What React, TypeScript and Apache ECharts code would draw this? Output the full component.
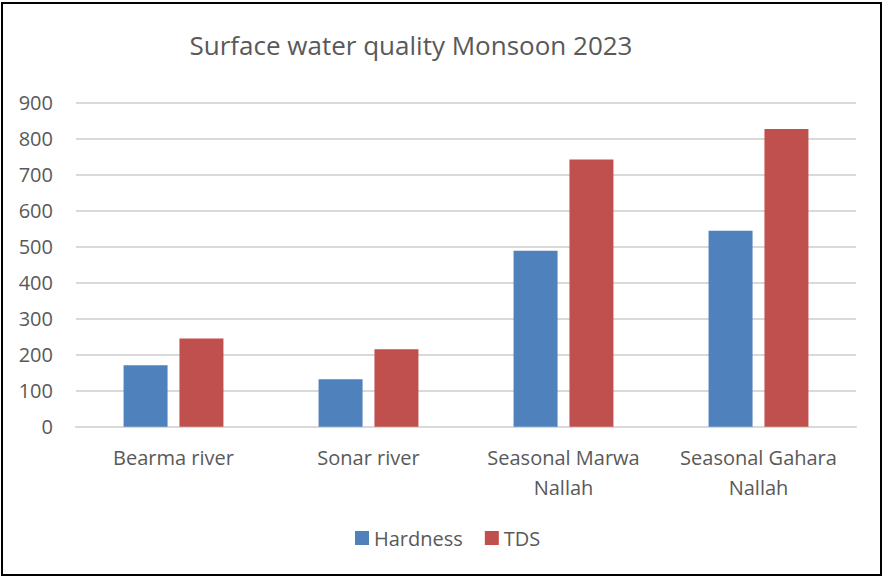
import React, { useEffect, useRef } from "react";
import * as echarts from "echarts";

const categories = ["Bearma river", "Sonar river", "Seasonal Marwa\nNallah", "Seasonal Gahara\nNallah"];
const hardness = [171, 132, 489, 544];
const tds = [245, 215, 742, 827];
const yTicks = { min: 0, max: 900, interval: 100 };
const titleText = "Surface water quality Monsoon 2023";

const FONT = "'Open Sans', sans-serif";
const TXT = "#595959";

export default function App() {
  const ref = useRef<HTMLDivElement>(null);
  useEffect(() => {
    if (!ref.current) return;
    const chart = echarts.init(ref.current, undefined, { renderer: "svg" });
    chart.setOption({
      animation: false,
      backgroundColor: "#ffffff",
      textStyle: { fontFamily: FONT },
      title: {
        text: titleText,
        left: 406,
        textAlign: "center",
        top: 27,
        textStyle: { fontFamily: FONT, fontSize: 26, fontWeight: "normal", color: TXT },
      },
      legend: {
        data: ["Hardness", "TDS"],
        bottom: 24,
        left: 350,
        itemWidth: 14,
        itemHeight: 14,
        itemGap: 22,
        icon: "rect",
        textStyle: { fontFamily: FONT, fontSize: 20, color: TXT },
      },
      grid: { left: 76, right: 28, top: 102.7, bottom: 150.3, containLabel: false },
      xAxis: {
        type: "category",
        data: categories,
        axisLine: { show: true, lineStyle: { color: "#d9d9d9", width: 2 } },
        axisTick: { show: false },
        axisLabel: { fontFamily: FONT, fontSize: 20, color: TXT, margin: 16, lineHeight: 30, interval: 0 },
      },
      yAxis: {
        type: "value",
        min: yTicks.min,
        max: yTicks.max,
        interval: yTicks.interval,
        axisLine: { show: false },
        axisTick: { show: false },
        splitLine: { lineStyle: { color: "#d9d9d9", width: 2 } },
        axisLabel: { fontFamily: FONT, fontSize: 20, color: TXT, margin: 23 },
      },
      series: [
        {
          name: "Hardness",
          type: "bar",
          data: hardness,
          barWidth: 44,
          barGap: "27%",
          itemStyle: { color: "#4f81bd" },
        },
        {
          name: "TDS",
          type: "bar",
          data: tds,
          barWidth: 44,
          itemStyle: { color: "#c0504d" },
        },
      ],
      graphic: [
        {
          type: "rect",
          shape: { x: 2, y: 3, width: 879, height: 572 },
          style: { fill: "none", stroke: "#000000", lineWidth: 2 },
          silent: true,
        },
      ],
    });
    return () => chart.dispose();
  }, []);
  return (
    <div
      ref={ref}
      style={{ position: "fixed", left: 0, top: 0, width: 884, height: 577 }}
    />
  );
}
